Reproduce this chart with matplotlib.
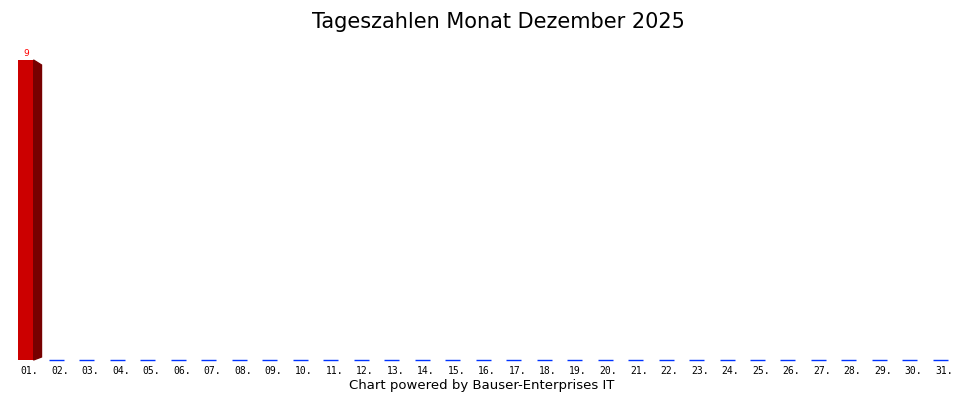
import numpy as np
import matplotlib
matplotlib.use("Agg")
import matplotlib.pyplot as plt
from matplotlib.patches import Polygon

# ----------------------------
# Data
# ----------------------------
days = [f"{d:02d}." for d in range(1, 32)]
counts = [9] + [0] * 30

TITLE = "Tageszahlen Monat Dezember 2025"
FOOTER = "Chart powered by Bauser-Enterprises IT"

# ----------------------------
# Layout (pixels -> data units)
# ----------------------------
W, H = 970, 400
STEP = 30.48          # pixels per day slot
X0 = 18.5             # left edge of first bar in pixels
BAR_W = 15 / STEP     # front width in day units
DEPTH = 8 / STEP      # 3d side depth in day units
FRONT = "#cc0000"
SIDE = "#770000"
ZERO = "#0033ff"

fig = plt.figure(figsize=(W / 100, H / 100), dpi=100)
ax = fig.add_axes([0, 40 / H, 1, 300 / H])
ax.set_xlim(1 - X0 / STEP, 1 + (W - X0) / STEP)
ymax = max(counts)
ax.set_ylim(0, ymax)
ax.axis("off")

x = np.arange(1, len(days) + 1)
vals = np.array(counts, dtype=float)
ppv = 300 / ymax  # pixels per value unit

for xi, v, lab in zip(x, vals, days):
    if v > 0:
        ax.bar(xi, v, width=BAR_W, align="edge", color=FRONT, clip_on=False, zorder=3)
        dy_top = 5 / ppv
        dy_bot = 3 / ppv
        side = Polygon([(xi + BAR_W, v), (xi + BAR_W + DEPTH, v - dy_top),
                        (xi + BAR_W + DEPTH, dy_bot), (xi + BAR_W, 0)],
                       closed=True, color=SIDE, clip_on=False, zorder=2)
        ax.add_patch(side)
        ax.text(xi + 8 / STEP, v + 2 / ppv, f"{int(v)}",
                color="red", fontsize=6.5, ha="center", va="bottom")
    else:
        ax.hlines(0, xi, xi + BAR_W, color=ZERO, linewidth=1, clip_on=False, zorder=3)
    ax.text(xi + 11 / STEP, -6 / ppv, lab, fontsize=7, family="DejaVu Sans Mono",
            ha="center", va="top")

fig.text(498 / W, 1 - 22 / H, TITLE, fontsize=15, ha="center", va="center")
fig.text(482 / W, 1 - 385 / H, FOOTER, fontsize=9.5, ha="center", va="center")

fig.savefig("out.png", dpi=100, facecolor="white")
